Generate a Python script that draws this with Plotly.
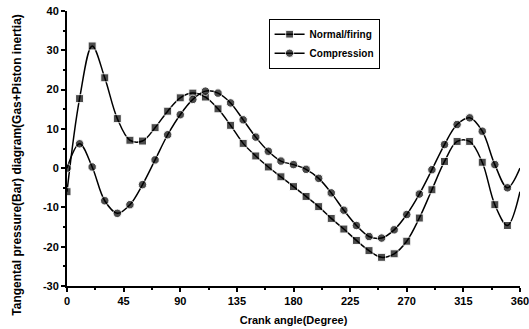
import plotly.graph_objects as go

angles = list(range(0, 361, 10))

normal_firing = [-6, 17.7, 31.1, 23.0, 12.6, 7.1, 6.9, 10.3, 14.5, 17.9,
                 19.1, 18.1, 15.1, 10.9, 6.3, 3.1, 0.3, -2.2, -4.7, -7.2,
                 -9.8, -12.8, -15.5, -18.4, -21.0, -22.7, -21.8, -18.6, -12.7, -5.5,
                 1.7, 6.8, 6.8, 1.5, -9.3, -14.6, -6]

compression = [0, 6.2, 0.3, -8.3, -11.5, -9.3, -4.2, 2.1, 8.5, 13.6,
               17.5, 19.6, 19.1, 16.6, 12.3, 7.9, 4.3, 1.8, 0.9, -0.3,
               -2.6, -6.3, -10.7, -14.6, -17.4, -17.8, -15.7, -11.8, -6.6, -0.4,
               6.0, 11.1, 12.8, 9.4, 0.9, -5.0, 0]

x_ticks = [0, 45, 90, 135, 180, 225, 270, 315, 360]
y_ticks = [-30, -20, -10, 0, 10, 20, 30, 40]

FONT = "Liberation Sans, Arial, sans-serif"

def sizes(n, s):
    return [s] * (n - 1) + [0]

fig = go.Figure()
fig.add_trace(go.Scatter(
    x=angles, y=normal_firing, name="Normal/firing",
    mode="lines+markers",
    line=dict(color="black", width=1.5, shape="spline", smoothing=1),
    marker=dict(symbol="square", size=sizes(len(angles), 8), color="black"),
))
fig.add_trace(go.Scatter(
    x=angles, y=compression, name="Compression",
    mode="lines+markers",
    line=dict(color="black", width=1.5, shape="spline", smoothing=1),
    marker=dict(symbol="circle", size=sizes(len(angles), 8.5), color="black"),
))

fig.add_annotation(
    text="Tangental pressure(Bar) diagram(Gas+Piston inertia)",
    xref="paper", yref="paper", x=-0.111, y=0.44, xanchor="center", yanchor="middle",
    textangle=-90, showarrow=False,
    font=dict(family=FONT, size=12, weight="bold", color="black"),
)

fig.update_layout(
    width=529, height=329,
    margin=dict(l=67, r=9, t=11, b=43, autoexpand=False),
    paper_bgcolor="white", plot_bgcolor="white",
    font=dict(family=FONT, color="black", size=10),
    showlegend=True,
    legend=dict(
        x=0.445, y=0.972, xanchor="left", yanchor="top",
        bordercolor="black", borderwidth=1, bgcolor="white",
        font=dict(family=FONT, size=10, weight="bold", color="black"),
        itemwidth=30, tracegroupgap=0,
    ),
    xaxis=dict(
        range=[0, 360], tickvals=x_ticks, ticktext=[str(v) for v in x_ticks],
        showgrid=False, zeroline=False, showline=True, linecolor="black", linewidth=2,
        ticks="outside", ticklen=4, tickwidth=1.5, tickcolor="black",
        minor=dict(dtick=22.5, tick0=0, ticks="outside", ticklen=2, tickcolor="black", showgrid=False),
        tickfont=dict(family=FONT, size=11, weight="bold", color="black"),
        ticklabeloverflow="allow", automargin=False,
        title=dict(text="Crank angle(Degree)", font=dict(family=FONT, size=11, weight="bold", color="black"), standoff=10),
    ),
    yaxis=dict(
        range=[-30, 40], tickvals=y_ticks, ticktext=[str(v) for v in y_ticks],
        showgrid=False, zeroline=False, showline=True, linecolor="black", linewidth=2,
        ticks="outside", ticklen=4, tickwidth=1.5, tickcolor="black",
        minor=dict(dtick=5, tick0=0, ticks="outside", ticklen=2, tickcolor="black", showgrid=False),
        tickfont=dict(family=FONT, size=11, weight="bold", color="black"),
        ticklabeloverflow="allow", automargin=False,
    ),
)

fig.write_html("out.html")
